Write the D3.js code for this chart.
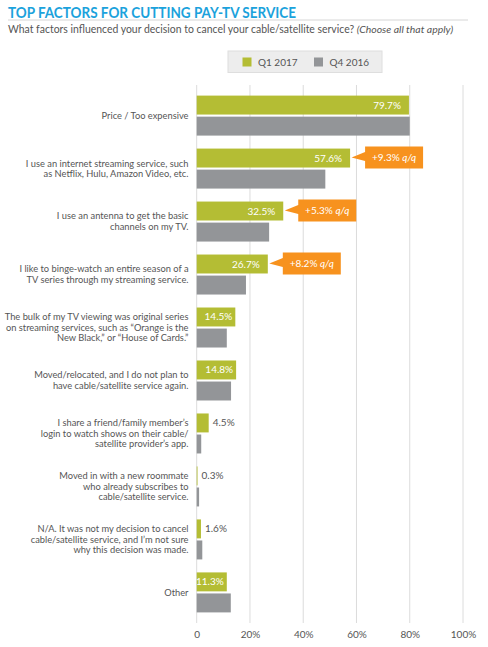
<!DOCTYPE html>
<html>
<head>
<meta charset="utf-8">
<script src="https://cdn.jsdelivr.net/npm/d3@7"></script>
<style>
  body { margin: 0; background: #fff; }
  #main { width: 488px; height: 647px; }
  text { font-family: Lato, "Open Sans", sans-serif; }
</style>
</head>
<body>
<div id="main"></div>
<script>
const categories = [
  ["Price / Too expensive"],
  ["I use an internet streaming service, such", "as Netflix, Hulu, Amazon Video, etc."],
  ["I use an antenna to get the basic", "channels on my TV."],
  ["I like to binge-watch an entire season of a", "TV series through my streaming service."],
  ["The bulk of my TV viewing was original series", "on streaming services, such as \u201cOrange is the", "New Black,\u201d or \u201cHouse of Cards.\u201d"],
  ["Moved/relocated, and I do not plan to", "have cable/satellite service again."],
  ["I share a friend/family member\u2019s", "login to watch shows on their cable/", "satellite provider\u2019s app."],
  ["Moved in with a new roommate", "who already subscribes to", "cable/satellite service."],
  ["N/A. It was not my decision to cancel", "cable/satellite service, and I\u2019m not sure", "why this decision was made."],
  ["Other"]
];
const seriesNames = ["Q1 2017", "Q4 2016"];
const q1_2017 = [79.7, 57.6, 32.5, 26.7, 14.5, 14.8, 4.5, 0.3, 1.6, 11.3];
const q4_2016 = [80.0, 48.3, 27.2, 18.5, 11.3, 12.9, 1.7, 0.9, 2.1, 12.8];
const changes = [null, "+9.3%", "+5.3%", "+8.2%", null, null, null, null, null, null];
const ticks = [0, 20, 40, 60, 80, 100];

const green = "#b4bd34", grey = "#939598", orange = "#f7921e", blue = "#1ba2dc";

const svg = d3.select("#main").append("svg")
  .attr("width", 488)
  .attr("height", 647);

// title + subtitle
svg.append("text")
  .attr("x", 8).attr("y", 17.5)
  .attr("fill", blue)
  .attr("font-size", 14.5)
  .attr("font-weight", 700)
  .attr("textLength", 288)
  .attr("lengthAdjust", "spacingAndGlyphs")
  .text("TOP FACTORS FOR CUTTING PAY-TV SERVICE");

svg.append("line")
  .attr("x1", 8).attr("x2", 468)
  .attr("y1", 20).attr("y2", 20)
  .attr("stroke", "#d6d6d6");

const sub = svg.append("text")
  .attr("x", 8).attr("y", 33)
  .attr("fill", "#555")
  .attr("font-size", 10.45);
sub.append("tspan").text("What factors influenced your decision to cancel your cable/satellite service? ");
sub.append("tspan").attr("font-style", "italic").text("(Choose all that apply)");

// legend
const legend = svg.append("g").attr("transform", "translate(228, 51)");
legend.append("rect")
  .attr("width", 154).attr("height", 21.5)
  .attr("fill", "#ededed")
  .attr("stroke", "#dedede");
seriesNames.forEach((s, i) => {
  let g = legend.append("g").attr("transform", `translate(${14.5 + i * 71.5}, 6.5)`);
  g.append("rect").attr("width", 9).attr("height", 9).attr("fill", i ? grey : green);
  g.append("text")
    .attr("x", 15.5).attr("y", 8.5)
    .attr("font-size", 10)
    .attr("fill", "#555")
    .text(s);
});

// scales
const x = d3.scaleLinear().domain([0, 100]).range([196.7, 463]);
const y = d3.scaleBand()
  .domain(d3.range(categories.length))
  .range([85, 623])
  .paddingInner(0.245)
  .paddingOuter(0.2);
const ySub = d3.scaleBand()
  .domain(seriesNames)
  .range([0, y.bandwidth()])
  .paddingInner(0.1);

// grid
svg.append("g").selectAll("line")
  .data(ticks)
  .join("line")
  .attr("x1", d => x(d)).attr("x2", d => x(d))
  .attr("y1", 85).attr("y2", 623)
  .attr("stroke", "#dcdcdc")
  .attr("stroke-width", 1);

// axis
const axis = svg.append("g")
  .attr("transform", "translate(0, 623)")
  .call(d3.axisBottom(x).tickValues(ticks).tickSize(0).tickPadding(8)
    .tickFormat(d => d === 0 ? "0" : d + "%"));
axis.select(".domain").remove();
axis.selectAll("text")
  .attr("font-family", "Lato, sans-serif")
  .attr("font-size", 10)
  .attr("fill", "#555");

// rows
const rows = svg.append("g").selectAll("g")
  .data(categories.map((c, i) => ({ label: c, vals: [q1_2017[i], q4_2016[i]], change: changes[i], i })))
  .join("g")
  .attr("transform", d => `translate(0, ${y(d.i)})`);

rows.each(function(d) {
  let g = d3.select(this);
  let bw = ySub.bandwidth();

  // category label
  let lh = 10.7;
  let n = d.label.length;
  let cy = y.bandwidth() / 2;
  g.append("text")
    .attr("text-anchor", "end")
    .attr("font-size", 9.3)
    .attr("fill", "#555")
    .selectAll("tspan")
    .data(d.label)
    .join("tspan")
    .attr("x", 188.5)
    .attr("y", (l, j) => cy + (j - (n - 1) / 2) * lh + 3.3)
    .text(l => l);

  seriesNames.forEach((s, k) => {
    g.append("rect")
      .attr("x", x(0))
      .attr("y", ySub(s))
      .attr("width", x(d.vals[k]) - x(0))
      .attr("height", bw)
      .attr("fill", k ? grey : green);
  });

  // value label on Q1 bar
  let v = d.vals[0];
  let w = x(v) - x(0);
  let ly = ySub(seriesNames[0]) + bw / 2 + 3.5;
  if (w > 28) {
    g.append("text")
      .attr("x", x(v) - (w > 60 ? 8 : 3))
      .attr("y", ly)
      .attr("text-anchor", "end")
      .attr("font-size", 10)
      .attr("fill", "#fff")
      .text(v.toFixed(1) + "%");
  } else {
    g.append("text")
      .attr("x", x(v) + 4)
      .attr("y", ly)
      .attr("font-size", 10)
      .attr("fill", "#555")
      .text(v.toFixed(1) + "%");
  }

  // change callout
  if (d.change) {
    let tip = x(v) + 1.5;
    let c = ySub(seriesNames[0]) + bw / 2 - 0.5;
    let bx = tip + 13.5, bwid = 58, bh = 22;
    g.append("path")
      .attr("d", `M${tip},${c} L${bx},${c - 5.5} L${bx},${c - bh / 2} L${bx + bwid},${c - bh / 2} L${bx + bwid},${c + bh / 2} L${bx},${c + bh / 2} L${bx},${c + 3.5} Z`)
      .attr("fill", orange);
    let t = g.append("text")
      .attr("x", bx + bwid / 2)
      .attr("y", c + 3.5)
      .attr("text-anchor", "middle")
      .attr("font-size", 10)
      .attr("fill", "#fff");
    t.append("tspan").text(d.change + " ");
    t.append("tspan").attr("font-style", "italic").text("q/q");
  }
});
</script>
</body>
</html>
